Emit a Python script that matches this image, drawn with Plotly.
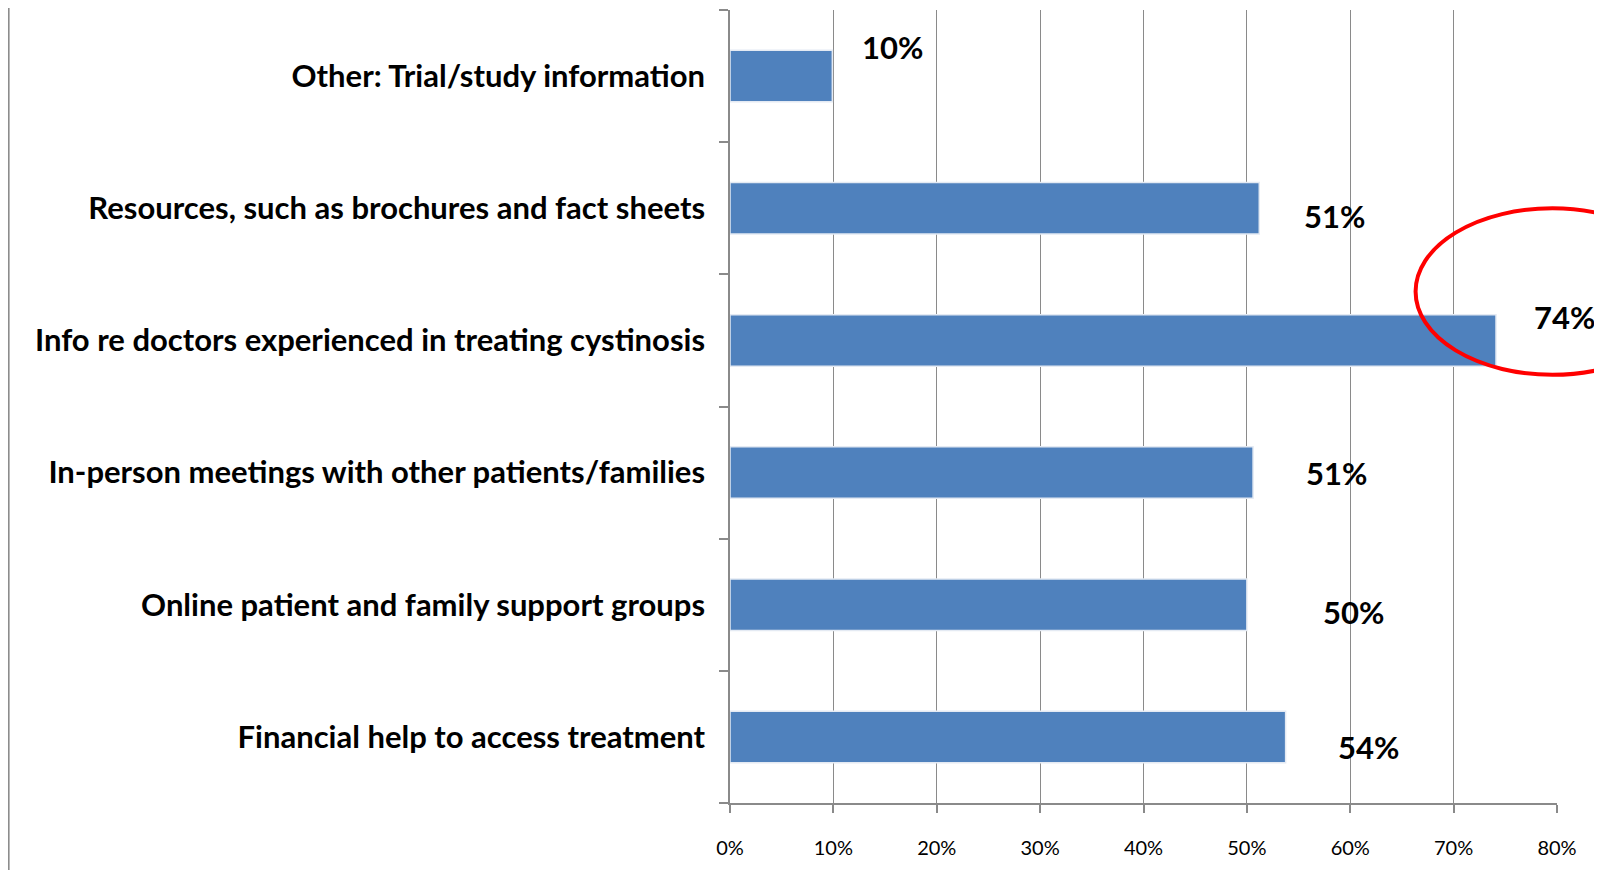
import plotly.graph_objects as go

# ---- data (bottom to top) ----
categories = [
    "Financial help to access treatment",
    "Online patient and family support groups",
    "In-person meetings with other patients/families",
    "Info re doctors experienced in treating cystinosis",
    "Resources, such as brochures and fact sheets",
    "Other: Trial/study information",
]
values = [0.5375, 0.500, 0.506, 0.741, 0.512, 0.099]
value_labels = ["54%", "50%", "51%", "74%", "51%", "10%"]
x_ticks = [0, 0.1, 0.2, 0.3, 0.4, 0.5, 0.6, 0.7, 0.8]
x_tick_labels = ["0%", "10%", "20%", "30%", "40%", "50%", "60%", "70%", "80%"]

X_MIN, X_MAX = 0.0, 0.8

# label placement styling (data-x offsets & pixel shifts)
label_dx = [0.080, 0.103, 0.081, 0.066, 0.073, 0.058]
label_dy = [-10, -7, 0, 23, -8, 29]

BAR_COLOR = "#4F81BD"
GRID = "#8a8a8a"
FONT = "Lato"

fig = go.Figure()
fig.add_trace(go.Bar(
    x=values, y=categories, orientation="h",
    marker=dict(color=BAR_COLOR, line=dict(color="#e4eaf3", width=1.5)),
    width=0.39, hoverinfo="x+y",
))

for cat, v, lab, dx, dy in zip(categories, values, value_labels, label_dx, label_dy):
    fig.add_annotation(
        xref="paper", x=(v + dx - X_MIN) / (X_MAX - X_MIN), y=cat,
        text="<b>%s</b>" % lab, showarrow=False, xanchor="center",
        yshift=dy, font=dict(family=FONT, size=31, color="black"),
    )

# red highlight ellipse
fig.add_shape(type="circle", xref="paper", yref="paper",
              x0=0.829, x1=1.160, y0=0.540, y1=0.750,
              line=dict(color="#ff0000", width=4), layer="above")
# left frame edge
fig.add_shape(type="line", xref="paper", yref="paper",
              x0=-0.8723, x1=-0.8723, y0=-0.1, y1=1.02,
              line=dict(color="#8c8c8c", width=2))

fig.update_layout(
    width=1594, height=862,
    margin=dict(l=722, r=45, t=2, b=67),
    paper_bgcolor="white", plot_bgcolor="white",
    showlegend=False,
    font=dict(family=FONT, color="black"),
    xaxis=dict(
        range=[X_MIN, X_MAX], tickvals=x_ticks, ticktext=x_tick_labels,
        showgrid=True, gridcolor=GRID, gridwidth=1,
        showline=True, linecolor=GRID, linewidth=1.5,
        ticks="outside", ticklen=8, tickcolor=GRID, tickwidth=1.5,
        tickfont=dict(family=FONT, size=20, color="black"),
        ticklabelstandoff=18, zeroline=False,
    ),
    yaxis=dict(
        categoryorder="array", categoryarray=categories,
        range=[-0.5, 5.5],
        showgrid=False, showline=True, linecolor=GRID, linewidth=1.5,
        ticks="outside", ticklen=9, tickcolor=GRID, tickwidth=1.5,
        tickson="boundaries",
        tickprefix="<b>", ticksuffix="</b>",
        tickfont=dict(family=FONT, size=31, color="black"),
        ticklabelstandoff=17,
    ),
)

fig.write_html("out.html")
